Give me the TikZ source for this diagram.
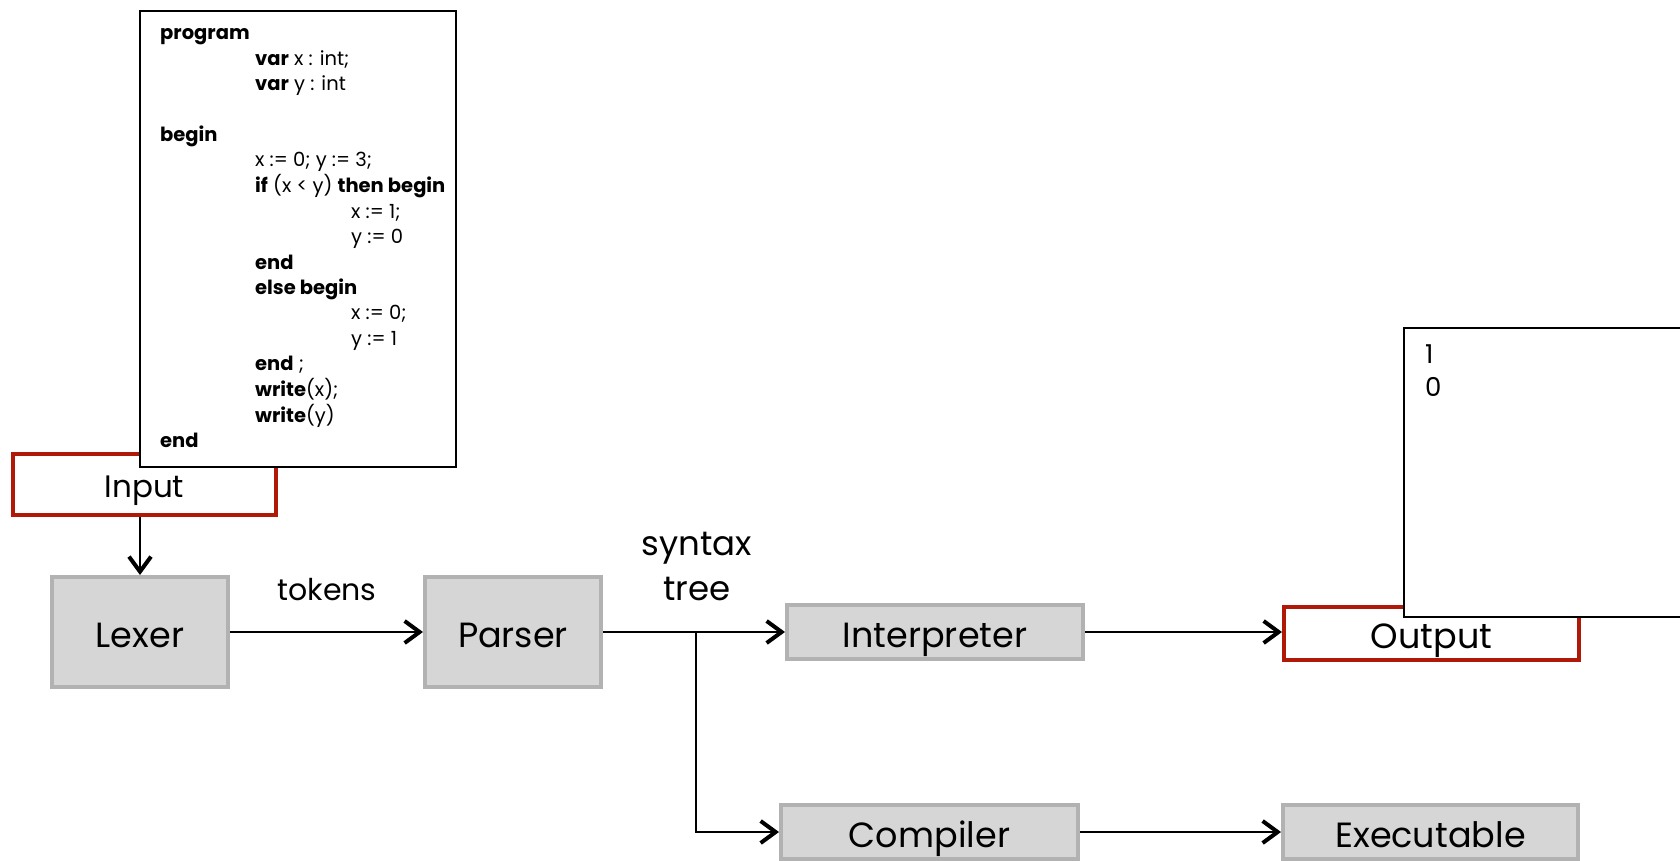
\documentclass[tikz,border=0pt]{standalone}
\usepackage{fontspec}
\setmainfont{Poppins}
\usetikzlibrary{arrows.meta}
\definecolor{boxgray}{RGB}{214,214,214}
\definecolor{boxedge}{RGB}{178,178,178}
\definecolor{redge}{RGB}{176,24,8}
\begin{document}
\begin{tikzpicture}[x=1pt,y=-1pt,
  graybox/.style={draw=boxedge, fill=boxgray, line width=4pt, inner sep=0pt, font=\fontsize{35}{40}\selectfont, text height=31pt, text depth=0pt},
  redbox/.style={draw=redge, fill=white, line width=4pt, inner sep=0pt, font=\fontsize{35}{40}\selectfont, text height=29pt, text depth=0pt},
  textbox/.style={draw=black, fill=white, line width=2pt, inner sep=0pt},
  conn/.style={line width=2.2pt, -{Straight Barb[length=15pt,width=22pt,line width=4pt]}},
  plain/.style={line width=2.2pt},
  lbl/.style={inner sep=0pt, font=\fontsize{34}{45}\selectfont, align=center},
]
\useasboundingbox (0,0) rectangle (1680,861);

% Input box and code listing
\node[redbox, minimum width=263pt, minimum height=61pt, font=\fontsize{31}{36}\selectfont, text height=25pt] (input) at (144.5,484.5) {Input};
\node[textbox, minimum width=316pt, minimum height=456pt] (codebox) at (298,239) {};
\node[inner sep=0pt, anchor=base west, font=\fontsize{19.5}{25.4}\selectfont] (code) at (160,40) {%
\begin{tabular}[t]{@{}l@{}}
\textbf{program}\\
\hspace*{95pt}\textbf{var} x : int;\\
\hspace*{95pt}\textbf{var} y : int\\
\mbox{}\\
\textbf{begin}\\
\hspace*{95pt}x := 0; y := 3;\\
\hspace*{95pt}\textbf{if} (x < y) \textbf{then begin}\\
\hspace*{191pt}x := 1;\\
\hspace*{191pt}y := 0\\
\hspace*{95pt}\textbf{end}\\
\hspace*{95pt}\textbf{else begin}\\
\hspace*{191pt}x := 0;\\
\hspace*{191pt}y := 1\\
\hspace*{95pt}\textbf{end} ;\\
\hspace*{95pt}\textbf{write}(x);\\
\hspace*{95pt}\textbf{write}(y)\\
\textbf{end}
\end{tabular}};

% Pipeline boxes
\node[graybox, minimum width=176pt, minimum height=110pt] (lexer) at (140,632) {Lexer};
\node[graybox, minimum width=176pt, minimum height=110pt] (parser) at (513,632) {Parser};
\node[graybox, minimum width=296pt, minimum height=54pt] (interp) at (935,632) {Interpreter};
\node[graybox, minimum width=297pt, minimum height=54pt] (compiler) at (929.5,832) {Compiler};
\node[graybox, minimum width=295pt, minimum height=54pt] (exec) at (1430.5,832) {Executable};

% Output box and output listing
\node[redbox, minimum width=295pt, minimum height=53pt] (output) at (1431.5,633.5) {Output};
\node[textbox, minimum width=315pt, minimum height=289pt] (outbox) at (1561.5,472.5) {};
\node[inner sep=0pt, anchor=base west, font=\fontsize{26}{33}\selectfont] (outtext) at (1425,363) {%
\begin{tabular}[t]{@{}l@{}}1\\0\end{tabular}};

% Labels
\node[lbl, font=\fontsize{30}{36}\selectfont] (tokens) at (327,590) {tokens};
\node[lbl] (syntax) at (697,566) {syntax\\tree};

% Connectors
\coordinate (branch) at (696,632);
\draw[conn] (lexer.north |- input.south) -- (lexer.north);
\draw[conn] (lexer.east) -- (parser.west);
\draw[conn] (parser.east) -- (interp.west);
\draw[plain] (branch) -- ++(0,1pt);
\draw[conn] (branch) |- (compiler.west);
\draw[conn] (interp.east) -- (interp.east -| output.west);
\draw[conn] (compiler.east) -- (exec.west);
\end{tikzpicture}
\end{document}
